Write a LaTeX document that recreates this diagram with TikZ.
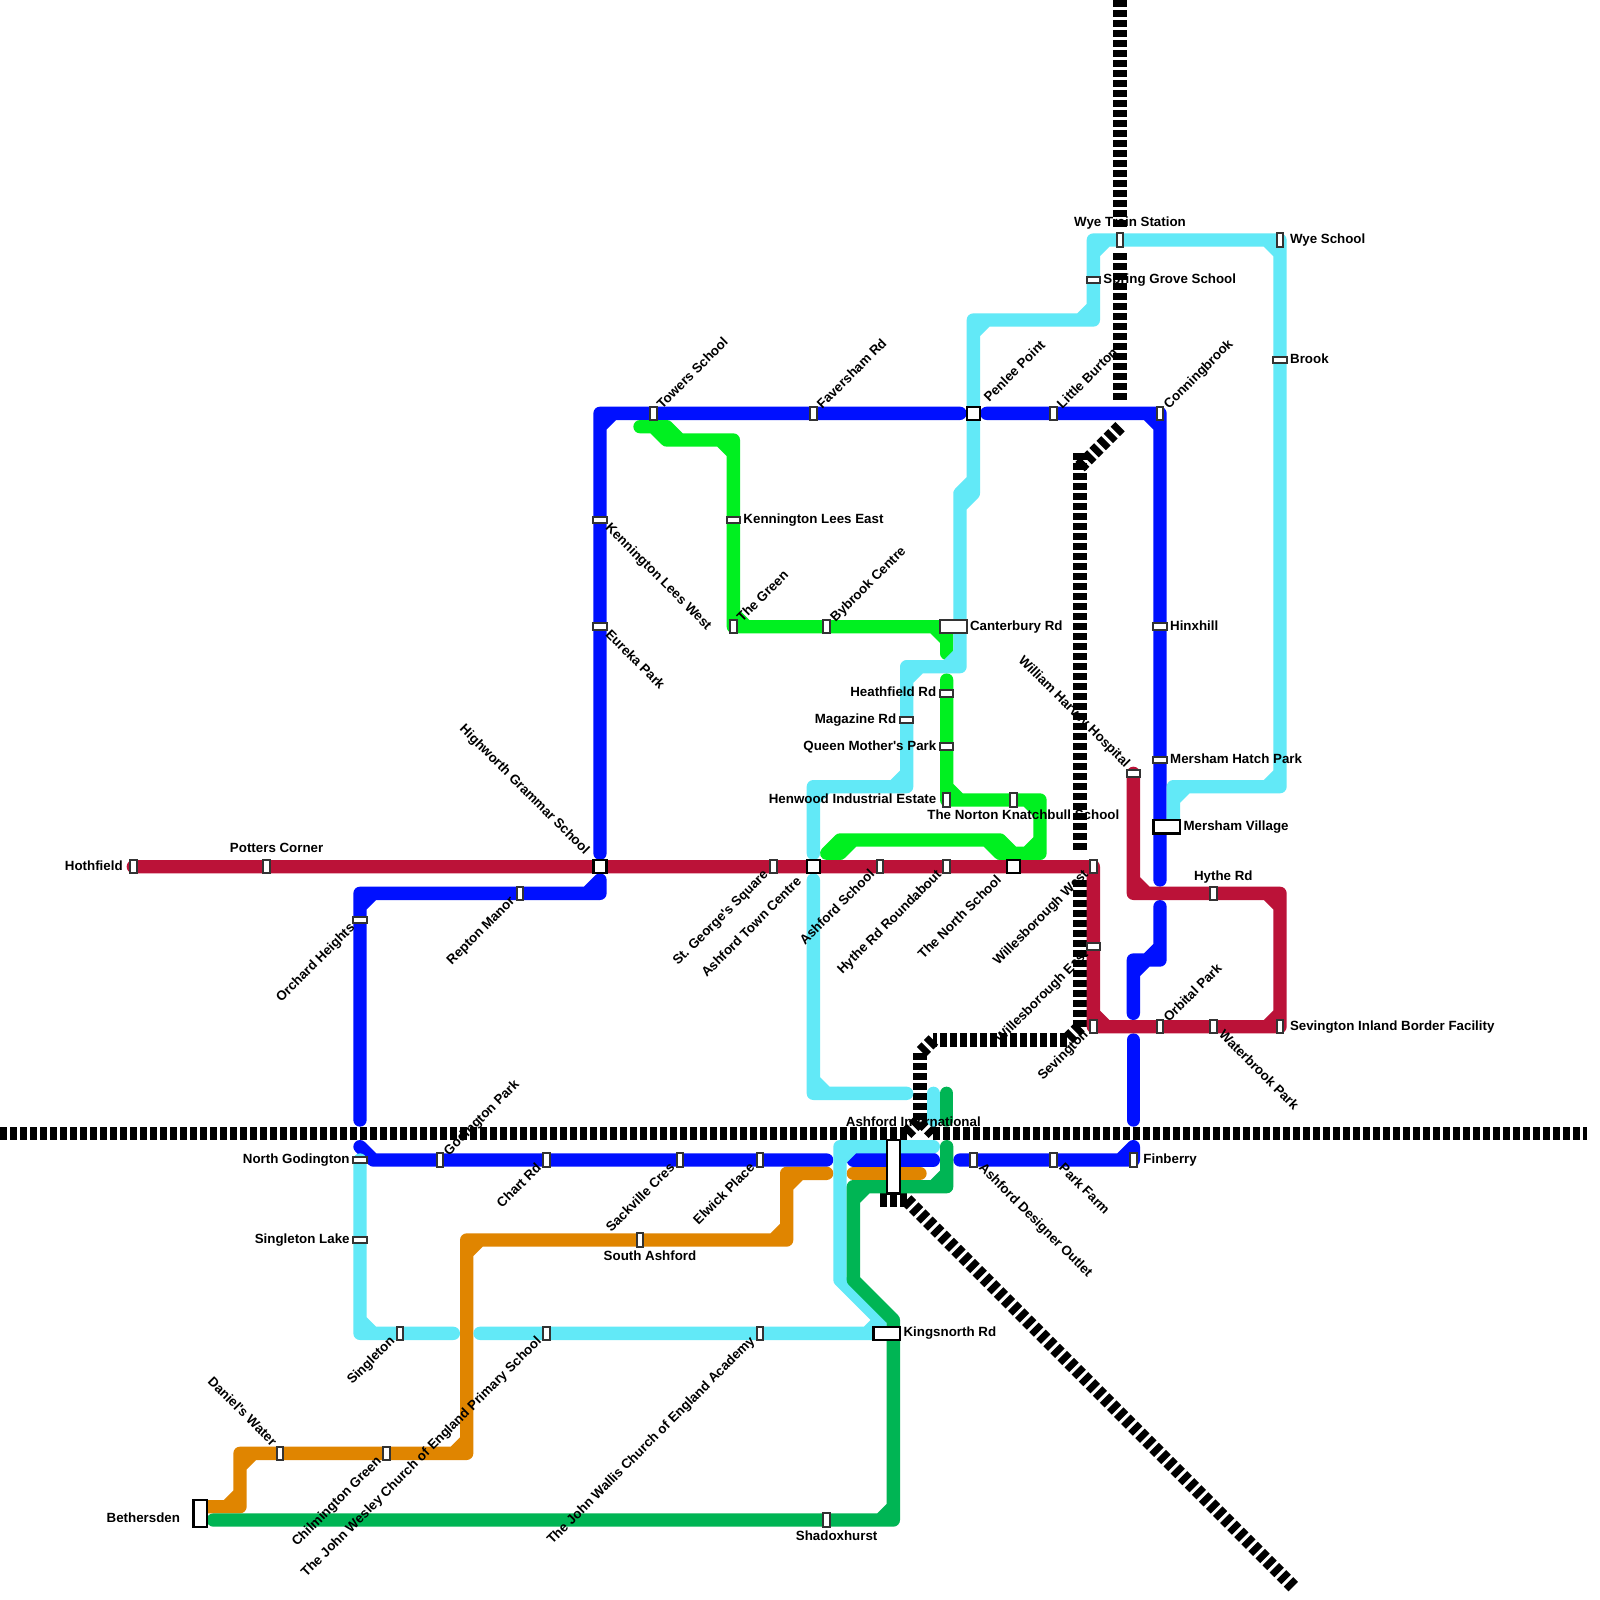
\documentclass[tikz,border=0pt]{standalone}
\usepackage{fontspec}
\setmainfont{Liberation Sans}
\usetikzlibrary{calc,backgrounds}
\definecolor{lred}{HTML}{BB1238}
\definecolor{lblue}{HTML}{0010FF}
\definecolor{lcyan}{HTML}{62E9F7}
\definecolor{lgreen}{HTML}{00F020}
\definecolor{ldark}{HTML}{00B554}
\definecolor{lorange}{HTML}{E08500}
\def\cn#1#2#3{-- (#1) -- (#2) -- (#3) -- (#1) -- (#3)}
\newcommand{\slab}[4]{\node[lbl,#1] (#2-t) at ($(#2.center)+(#3)$) {#4};}
\tikzset{
  sbase/.style={rectangle,fill=white,inner sep=0pt,outer sep=0pt},
  sv/.style={sbase,draw=black!80,line width=.055cm,minimum width=.2cm,minimum height=.4cm},
  sh/.style={sbase,draw=black!80,line width=.055cm,minimum width=.4cm,minimum height=.2cm},
  ssq/.style={sbase,draw=black,line width=.07cm,minimum width=.39cm,minimum height=.39cm},
  swide/.style={sbase,draw=black!80,line width=.055cm,minimum width=.8cm,minimum height=.4cm},
  swideb/.style={sbase,draw=black,line width=.07cm,minimum width=.8cm,minimum height=.4cm},
  stallb/.style={sbase,draw=black,line width=.07cm,minimum width=.4cm,minimum height=.8cm},
  stall4/.style={sbase,draw=black,line width=.07cm,minimum width=.4cm,minimum height=1.6cm},
  lbl/.style={inner sep=0pt,outer sep=0pt,font=\fontsize{11.38pt}{13pt}\selectfont\bfseries,text=black},
  ur/.style={rotate=45,anchor=base west},
  dr/.style={rotate=-45,anchor=base west},
  ll/.style={rotate=45,anchor=base east},
  ul/.style={rotate=-45,anchor=base east},
  rt/.style={anchor=base west},
  lf/.style={anchor=base east},
  ct/.style={anchor=base},
  tube/.style={line width=.4cm,line cap=round,line join=round},
  rail/.style={line width=.4cm,draw=black,dash pattern=on .2cm off .1cm,line cap=butt,line join=miter},
}
\begin{document}
\begin{tikzpicture}[x=.4cm,y=-.4cm]
\useasboundingbox (0,0) rectangle (120,120);
% stations
\node[sv] (hothfield) at (10,65) {};
\node[sv] (potters) at (20,65) {};
\node[ssq] (highworth) at (45,65) {};
\node[sv] (george) at (58,65) {};
\node[ssq] (towncentre) at (61,65) {};
\node[sv] (ashschool) at (66,65) {};
\node[sv] (hytheround) at (71,65) {};
\node[ssq] (northschool) at (76,65) {};
\node[sv] (willwest) at (82,65) {};
\node[sh] (willeast) at (82,71) {};
\node[sv] (sevington) at (82,77) {};
\node[sv] (orbital) at (87,77) {};
\node[sv] (waterbrook) at (91,77) {};
\node[sv] (sevborder) at (96,77) {};
\node[sv] (hytherd) at (91,67) {};
\node[sh] (william) at (85,58) {};
\node[sv] (towers) at (49,31) {};
\node[sv] (faversham) at (61,31) {};
\node[ssq] (penlee) at (73,31) {};
\node[sv] (burton) at (79,31) {};
\node[sv] (conning) at (87,31) {};
\node[sh] (kenwest) at (45,39) {};
\node[sh] (eureka) at (45,47) {};
\node[sh] (hinxhill) at (87,47) {};
\node[sh] (hatch) at (87,57) {};
\node[swideb] (mersham) at (87.5,62) {};
\node[sv] (repton) at (39,67) {};
\node[sh] (orchard) at (27,69) {};
\node[sh] (northgod) at (27,87) {};
\node[sv] (godington) at (33,87) {};
\node[sv] (chart) at (41,87) {};
\node[sv] (sackville) at (51,87) {};
\node[sv] (elwick) at (57,87) {};
\node[sv] (outlet) at (73,87) {};
\node[sv] (parkfarm) at (79,87) {};
\node[sv] (finberry) at (85,87) {};
\node[stall4] (intl) at (67,87.5) {};
\node[sv] (southash) at (48,93) {};
\node[sv] (daniels) at (21,109) {};
\node[sv] (chilm) at (29,109) {};
\node[stallb] (bethersden) at (15,113.5) {};
\node[sv] (shadox) at (62,114) {};
\node[swideb] (kingsnorth) at (66.5,100) {};
\node[sv] (wallis) at (57,100) {};
\node[sv] (wesley) at (41,100) {};
\node[sv] (singleton) at (30,100) {};
\node[sh] (singlake) at (27,93) {};
\node[sv] (wyeschool) at (96,18) {};
\node[sh] (brook) at (96,27) {};
\node[sv] (wyetrain) at (84,18) {};
\node[sh] (spring) at (82,21) {};
\node[swide] (canterbury) at (71.5,47) {};
\node[sh] (magazine) at (68,54) {};
\node[sh] (keneast) at (55,39) {};
\node[sv] (thegreen) at (55,47) {};
\node[sv] (bybrook) at (62,47) {};
\node[sh] (heathfield) at (71,52) {};
\node[sh] (queen) at (71,56) {};
\node[sv] (henwood) at (71,60) {};
\node[sv] (norton) at (76,60) {};
% labels
\slab{lf}{hothfield}{-.8,.25}{Hothfield}
\slab{ct}{potters}{.75,-1.05}{Potters Corner}
\slab{ul}{highworth}{-1.18,-.87}{Highworth Grammar School}
\slab{ll}{george}{-.35,.65}{St. George\textquotesingle s Square}
\slab{ll}{towncentre}{-.85,1.2}{Ashford Town Centre}
\slab{ll}{ashschool}{-.35,.65}{Ashford School}
\slab{ll}{hytheround}{-.35,.65}{Hythe Rd Roundabout}
\slab{ll}{northschool}{-.85,1.08}{The North School}
\slab{ll}{willwest}{-.35,.65}{Willesborough West}
\slab{ll}{willeast}{-.35,.65}{Willesborough East}
\slab{ll}{sevington}{-.35,.65}{Sevington}
\slab{ur}{orbital}{.68,-.3}{Orbital Park}
\slab{dr}{waterbrook}{.37,.67}{Waterbrook Park}
\slab{rt}{sevborder}{.75,.25}{Sevington Inland Border Facility}
\slab{ct}{hytherd}{.75,-1.0}{Hythe Rd}
\slab{ul}{william}{-.65,-.4}{William Harvey Hospital}
\slab{ur}{towers}{.68,-.3}{Towers School}
\slab{ur}{faversham}{.68,-.3}{Faversham Rd}
\slab{ur}{penlee}{1.2,-.8}{Penlee Point}
\slab{ur}{burton}{.68,-.3}{Little Burton}
\slab{ur}{conning}{.68,-.3}{Conningbrook}
\slab{dr}{kenwest}{.37,.67}{Kennington Lees West}
\slab{dr}{eureka}{.37,.67}{Eureka Park}
\slab{rt}{hinxhill}{.76,.25}{Hinxhill}
\slab{rt}{hatch}{.76,.25}{Mersham Hatch Park}
\slab{rt}{mersham}{1.27,.25}{Mersham Village}
\slab{ll}{repton}{-.35,.65}{Repton Manor}
\slab{ll}{orchard}{-.35,.65}{Orchard Heights}
\slab{lf}{northgod}{-.78,.25}{North Godington}
\slab{ur}{godington}{.68,-.3}{Godington Park}
\slab{ll}{chart}{-.35,.65}{Chart Rd}
\slab{ll}{sackville}{-.35,.65}{Sackville Cres}
\slab{ll}{elwick}{-.35,.65}{Elwick Place}
\slab{dr}{outlet}{.37,.67}{Ashford Designer Outlet}
\slab{dr}{parkfarm}{.37,.67}{Park Farm}
\slab{rt}{finberry}{.76,.25}{Finberry}
\slab{ct}{intl}{1.5,-3.0}{Ashford International}
\slab{ct}{southash}{.75,1.5}{South Ashford}
\slab{ul}{daniels}{-.65,-.5}{Daniel\textquotesingle s Water}
\slab{ll}{chilm}{-.35,.65}{Chilmington Green}
\slab{lf}{bethersden}{-1.5,.65}{Bethersden}
\slab{ct}{shadox}{.75,1.5}{Shadoxhurst}
\slab{rt}{kingsnorth}{1.27,.25}{Kingsnorth Rd}
\slab{ll}{wallis}{-.35,.65}{The John Wallis Church of England Academy}
\slab{ll}{wesley}{-.35,.65}{The John Wesley Church of England Primary School}
\slab{ll}{singleton}{-.35,.65}{Singleton}
\slab{lf}{singlake}{-.78,.25}{Singleton Lake}
\slab{rt}{wyeschool}{.75,.25}{Wye School}
\slab{rt}{brook}{.76,.25}{Brook}
\slab{ct}{wyetrain}{.75,-1.05}{Wye Train Station}
\slab{rt}{spring}{.76,.25}{Spring Grove School}
\slab{rt}{canterbury}{1.25,.25}{Canterbury Rd}
\slab{lf}{magazine}{-.78,.25}{Magazine Rd}
\slab{rt}{keneast}{.76,.25}{Kennington Lees East}
\slab{ur}{thegreen}{.68,-.3}{The Green}
\slab{ur}{bybrook}{.68,-.3}{Bybrook Centre}
\slab{lf}{heathfield}{-.78,.25}{Heathfield Rd}
\slab{lf}{queen}{-.78,.25}{Queen Mother\textquotesingle s Park}
\slab{lf}{henwood}{-.78,.25}{Henwood Industrial Estate}
\slab{ct}{norton}{.75,1.45}{The Norton Knatchbull School}
% lines underneath the stations
\begin{scope}[on background layer]
\fill[white] (0,0) rectangle (120,120);
% railways
\draw[rail] (84,0) -- (84,17);
\draw[rail] (84,19) -- (84,30);
\draw[rail] (84,32) -- (81,35);
\draw[rail] (81,34) -- (81,63.75);
\draw[rail] (81,66) -- (81,77);
\draw[rail] (81,77) -- (80,78);
\draw[rail] (80,78) -- (70,78);
\draw[rail] (70,78) -- (69,79);
\draw[rail] (69,79) -- (69,84);
\draw[rail] (0,85) -- (68,85);
\draw[rail] (68,85) -- (69,84);
\draw[rail] (70,85) -- (69,84);
\draw[rail] (70,85) -- (119,85);
\draw[rail] (66,90) -- (68,90);
\draw[rail] (68,90) -- (97,119);
% orange
\draw[tube,lorange] (15,113) \cn{17,113}{18,113}{18,112} \cn{18,110}{18,109}{19,109} -- (daniels.center) -- (chilm.center) \cn{34,109}{35,109}{35,108} \cn{35,94}{35,93}{36,93} -- (southash.center) \cn{58,93}{59,93}{59,92} \cn{59,89}{59,88}{60,88} -- (62,88);
\draw[tube,lorange] (64,88) -- (69,88);
% blue
\draw[tube,lblue] (45,64) -- (eureka.center) -- (kenwest.center) \cn{45,32}{45,31}{46,31} -- (towers.center) -- (faversham.center) -- (72,31);
\draw[tube,lblue] (74,31) -- (burton.center) \cn{86,31}{87,31}{87,32} -- (hinxhill.center) -- (hatch.center) -- (87,66);
\draw[tube,lblue] (87,68) -- (87,71) -- (87,72) -- (85,72) -- (85,73) -- (87,71) -- (85,73) -- (85,76);
\draw[tube,lblue] (85,78) -- (85,84);
\draw[tube,lblue] (85,86) -- (85,87) -- (84,87) -- (85,86) -- (84,87) -- (parkfarm.center) -- (outlet.center) -- (72,87);
\draw[tube,lblue] (70,87) -- (64,87);
\draw[tube,lblue] (62,87) -- (elwick.center) -- (sackville.center) -- (chart.center) -- (godington.center) -- (28,87) -- (27,86);
\draw[tube,lblue] (27,84) -- (orchard.center) \cn{27,68}{27,67}{28,67} -- (repton.center) \cn{44,67}{45,67}{45,66};
% bright green
\draw[tube,lgreen] (48,32) -- (50,32) -- (51,33) -- (50,33) -- (49,32) -- (50,32) -- (50,33) \cn{54,33}{55,33}{55,34} -- (keneast.center) \cn{55,46}{55,47}{56,47} -- (bybrook.center) \cn{70,47}{71,47}{71,48} -- (71,49);
\draw[tube,lgreen] (71,51) -- (heathfield.center) -- (queen.center) \cn{71,59}{71,60}{72,60} -- (norton.center) \cn{77,60}{78,60}{78,61} \cn{78,63}{78,64}{77,64} -- (75,64) -- (74,63) -- (75,63) -- (75,64) -- (76,64) -- (75,63) -- (63,63) -- (62,64) -- (63,64) -- (64,63) -- (63,63) -- (63,64);
% red
\draw[tube,lred] (hothfield.center) -- (potters.center) -- (highworth.center) -- (george.center) -- (towncentre.center) -- (ashschool.center) -- (hytheround.center) -- (northschool.center) -- (willwest.center) -- (willeast.center) \cn{82,76}{82,77}{83,77} -- (orbital.center) -- (waterbrook.center) \cn{95,77}{96,77}{96,76} \cn{96,68}{96,67}{95,67} -- (hytherd.center) \cn{86,67}{85,67}{85,66} -- (william.center);
% cyan
\draw[tube,lcyan] (88,62) \cn{88,60}{88,59}{89,59} \cn{95,59}{96,59}{96,58} -- (brook.center) \cn{96,19}{96,18}{95,18} -- (wyetrain.center) \cn{83,18}{82,18}{82,19} -- (spring.center) \cn{82,23}{82,24}{81,24} \cn{74,24}{73,24}{73,25} -- (penlee.center) -- (73,36) -- (72,37) -- (73,37) -- (72,38) -- (72,37) -- (73,36) -- (73,37) -- (72,38) \cn{72,49}{72,50}{71,50} \cn{69,50}{68,50}{68,51} -- (magazine.center) \cn{68,58}{68,59}{67,59} \cn{62,59}{61,59}{61,60} -- (61,64);
\draw[tube,lcyan] (61,66) \cn{61,81}{61,82}{62,82} -- (68,82);
\draw[tube,lcyan] (70,86) \cn{64,86}{63,86}{63,87} -- (63,96) -- (66,99) -- (66,100) -- (65,100) -- (66,99) -- (65,100) -- (wallis.center) -- (wesley.center) -- (36,100);
\draw[tube,lcyan] (34,100) -- (singleton.center) \cn{28,100}{27,100}{27,99} -- (singlake.center) -- (northgod.center);
\draw[tube,lcyan] (70,82) -- (70,84);
% dark green
\draw[tube,ldark] (16,114) -- (shadox.center) \cn{66,114}{67,114}{67,113} -- (67,99) -- (64,96) \cn{64,90}{64,89}{65,89} \cn{70,89}{71,89}{71,88} -- (71,86);
\draw[tube,ldark] (71,82) -- (71,84);
\end{scope}
\end{tikzpicture}
\end{document}
